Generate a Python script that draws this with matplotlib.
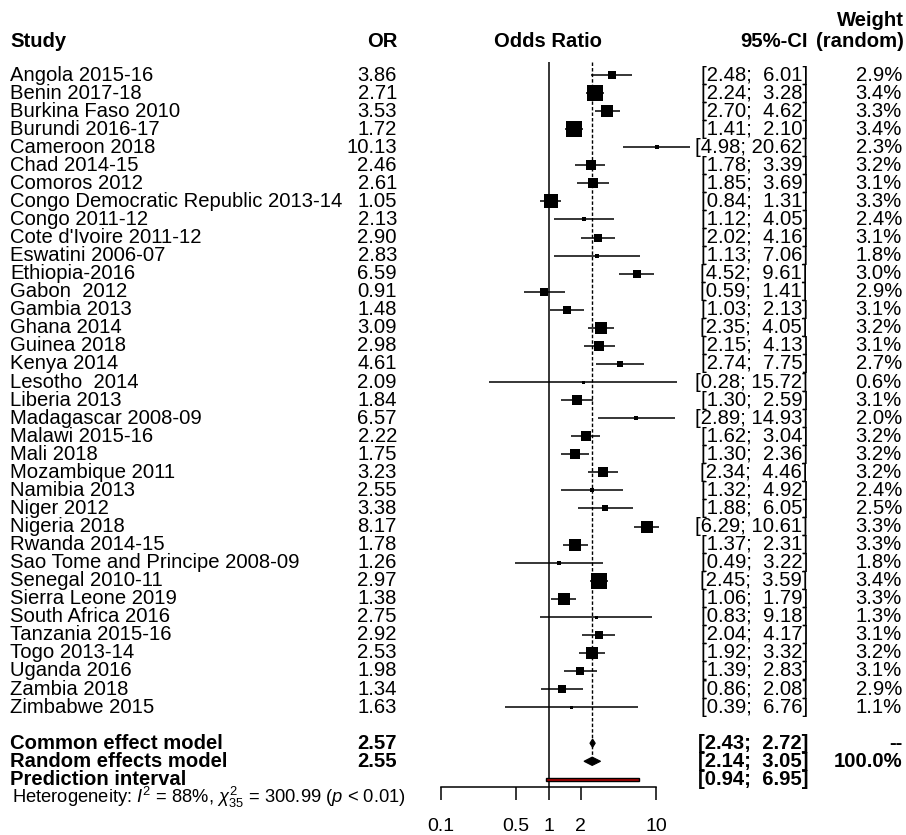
import numpy as np
import matplotlib
matplotlib.use("Agg")
import matplotlib.pyplot as plt
from matplotlib import transforms
from matplotlib.patches import Polygon, Rectangle

plt.rcParams['font.family'] = ['Liberation Sans', 'DejaVu Sans']
plt.rcParams['mathtext.fontset'] = 'custom'
plt.rcParams['mathtext.rm'] = 'Liberation Sans'
plt.rcParams['mathtext.it'] = 'Liberation Sans:italic'

# ---- data ----
studies = ["Angola 2015-16", "Benin 2017-18", "Burkina Faso 2010", "Burundi 2016-17",
           "Cameroon 2018", "Chad 2014-15", "Comoros 2012",
           "Congo Democratic Republic 2013-14", "Congo 2011-12", "Cote d'Ivoire 2011-12",
           "Eswatini 2006-07", "Ethiopia-2016", "Gabon  2012", "Gambia 2013", "Ghana 2014",
           "Guinea 2018", "Kenya 2014", "Lesotho  2014", "Liberia 2013", "Madagascar 2008-09",
           "Malawi 2015-16", "Mali 2018", "Mozambique 2011", "Namibia 2013", "Niger 2012",
           "Nigeria 2018", "Rwanda 2014-15", "Sao Tome and Principe 2008-09",
           "Senegal 2010-11", "Sierra Leone 2019", "South Africa 2016", "Tanzania 2015-16",
           "Togo 2013-14", "Uganda 2016", "Zambia 2018", "Zimbabwe 2015"]
odds = [3.86, 2.71, 3.53, 1.72, 10.13, 2.46, 2.61, 1.05, 2.13, 2.90, 2.83, 6.59, 0.91,
        1.48, 3.09, 2.98, 4.61, 2.09, 1.84, 6.57, 2.22, 1.75, 3.23, 2.55, 3.38, 8.17,
        1.78, 1.26, 2.97, 1.38, 2.75, 2.92, 2.53, 1.98, 1.34, 1.63]
ci_lo = [2.48, 2.24, 2.70, 1.41, 4.98, 1.78, 1.85, 0.84, 1.12, 2.02, 1.13, 4.52, 0.59,
         1.03, 2.35, 2.15, 2.74, 0.28, 1.30, 2.89, 1.62, 1.30, 2.34, 1.32, 1.88, 6.29,
         1.37, 0.49, 2.45, 1.06, 0.83, 2.04, 1.92, 1.39, 0.86, 0.39]
ci_hi = [6.01, 3.28, 4.62, 2.10, 20.62, 3.39, 3.69, 1.31, 4.05, 4.16, 7.06, 9.61, 1.41,
         2.13, 4.05, 4.13, 7.75, 15.72, 2.59, 14.93, 3.04, 2.36, 4.46, 4.92, 6.05, 10.61,
         2.31, 3.22, 3.59, 1.79, 9.18, 4.17, 3.32, 2.83, 2.08, 6.76]
weights = [2.9, 3.4, 3.3, 3.4, 2.3, 3.2, 3.1, 3.3, 2.4, 3.1, 1.8, 3.0, 2.9, 3.1, 3.2,
           3.1, 2.7, 0.6, 3.1, 2.0, 3.2, 3.2, 3.2, 2.4, 2.5, 3.3, 3.3, 1.8, 3.4, 3.3,
           1.3, 3.1, 3.2, 3.1, 2.9, 1.1]

common = (2.57, 2.43, 2.72)
random_eff = (2.55, 2.14, 3.05)
pred_int = (0.94, 6.95)
ticks = [0.1, 0.5, 1, 2, 10]
tick_labels = ["0.1", "0.5", "1", "2", "10"]
hetero = r"Heterogeneity: $I^2$ = 88%, $\chi^2_{35}$ = 300.99 ($p$ < 0.01)"

# ---- layout (pixels of a 906x835 canvas) ----
W, H = 906, 835
row0, rowh = 75, 18.06
top_px, bot_px = 62, 787
fs = 14.6

fig = plt.figure(figsize=(W / 100, H / 100), dpi=100)
ax = fig.add_axes([441 / W, 1 - bot_px / H, 215 / W, (bot_px - top_px) / H])
ax.set_xscale('log')
ax.set_xlim(0.1, 10)
ax.set_ylim((bot_px - row0) / rowh, (top_px - row0) / rowh)

n = len(studies)
y = np.arange(n)
y_common, y_random, y_pred, y_het = n + 1, n + 2, n + 3, n + 4

# study CIs and squares (area ~ inverse variance)
se = (np.log(ci_hi) - np.log(ci_lo)) / (2 * 1.96)
side_px = np.maximum(1.6 / se, 3.0)
ax.hlines(y, ci_lo, ci_hi, color='black', lw=1.1, clip_on=False, zorder=2)
for yi, o, s in zip(y, odds, side_px):
    ax.plot(o, yi, marker='s', ms=s * 0.72, color='black', mec='black', mew=0,
            clip_on=False, zorder=3)

# reference lines
ax.axvline(1, color='black', lw=1.1, zorder=1)
ax.plot([random_eff[0]] * 2, [ax.get_ylim()[1], y_random], color='black', lw=1.0,
        dashes=(2.5, 1.5), zorder=1)

# diamonds
for (est, lo, hi), yy in [(common, y_common), (random_eff, y_random)]:
    ax.add_patch(Polygon([(lo, yy), (est, yy - 0.23), (hi, yy), (est, yy + 0.23)],
                         closed=True, facecolor='black', edgecolor='black', lw=0.8,
                         zorder=4))
ax.add_patch(Rectangle((pred_int[0], y_pred - 0.09), pred_int[1] - pred_int[0], 0.18,
                       facecolor='#b00000', edgecolor='black', lw=1.0, zorder=4))

# axis styling
for sp in ['left', 'top', 'right']:
    ax.spines[sp].set_visible(False)
ax.spines['bottom'].set_bounds(0.1, 10)
ax.spines['bottom'].set_linewidth(1.1)
ax.set_yticks([])
ax.set_xticks(ticks)
ax.set_xticklabels(tick_labels, fontsize=14)
ax.minorticks_off()
ax.tick_params(axis='x', length=9.5, width=1.1, pad=13)

# text columns
tr = transforms.blended_transform_factory(fig.transFigure, ax.transData)


def put(px, yy, s, ha='left', bold=False, size=fs):
    fig.text(px / W, yy, s, transform=tr, ha=ha, va='center', fontsize=size,
             fontweight='bold' if bold else 'normal')


def ci_text(lo, hi):
    return f"[{lo:.2f}; {hi:>5.2f}]"


hdr = -1.85
put(10, hdr, "Study", bold=True)
put(397, hdr, "OR", ha='right', bold=True)
put(548, hdr, "Odds Ratio", ha='center', bold=True)
put(808, hdr, "95%-CI", ha='right', bold=True)
put(904, hdr, "(random)", ha='right', bold=True)
put(904, hdr - 1.15, "Weight", ha='right', bold=True)

for yi, name, o, lo, hi, w in zip(y, studies, odds, ci_lo, ci_hi, weights):
    put(10, yi, name)
    put(397, yi, f"{o:.2f}", ha='right')
    put(808, yi, ci_text(lo, hi), ha='right')
    put(902, yi, f"{w:.1f}%", ha='right')

put(10, y_common, "Common effect model", bold=True)
put(397, y_common, f"{common[0]:.2f}", ha='right', bold=True)
put(808, y_common, ci_text(common[1], common[2]), ha='right', bold=True)
put(902, y_common, "--", ha='right', bold=True)

put(10, y_random, "Random effects model", bold=True)
put(397, y_random, f"{random_eff[0]:.2f}", ha='right', bold=True)
put(808, y_random, ci_text(random_eff[1], random_eff[2]), ha='right', bold=True)
put(902, y_random, "100.0%", ha='right', bold=True)

put(10, y_pred, "Prediction interval", bold=True)
put(808, y_pred, ci_text(pred_int[0], pred_int[1]), ha='right', bold=True)

put(12, y_het, hetero, size=13.2)

fig.savefig("out.png", dpi=100)
